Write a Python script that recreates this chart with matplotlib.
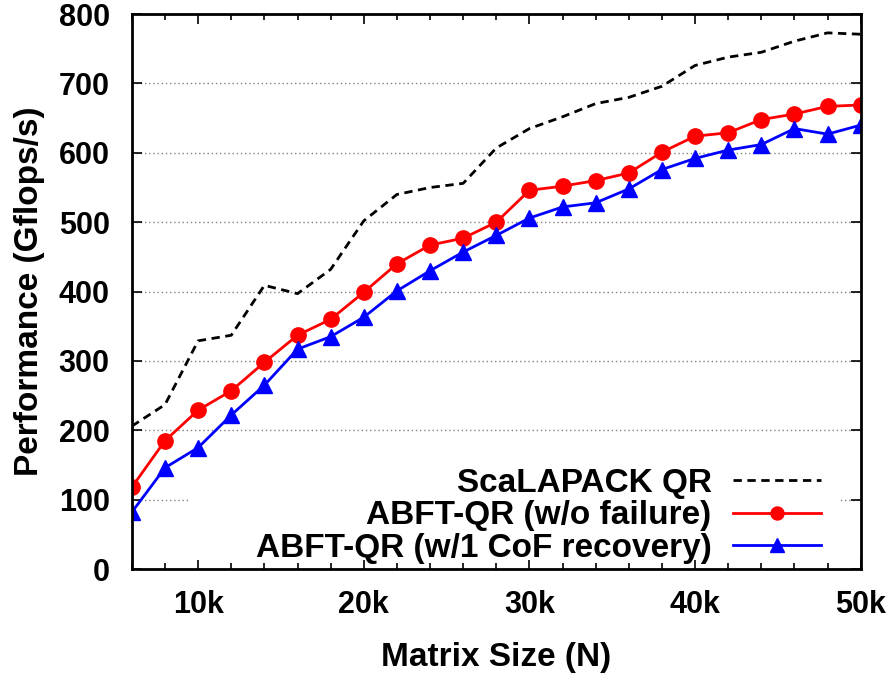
import matplotlib
matplotlib.use("Agg")
import matplotlib.pyplot as plt
from matplotlib.patches import Rectangle
from matplotlib.ticker import MultipleLocator, FuncFormatter

plt.rcParams['font.family'] = ['Liberation Sans', 'DejaVu Sans']
plt.rcParams['font.weight'] = 'bold'

# matrix sizes (N)
sizes = [6000, 8000, 10000, 12000, 14000, 16000, 18000, 20000, 22000, 24000,
         26000, 28000, 30000, 32000, 34000, 36000, 38000, 40000, 42000, 44000,
         46000, 48000, 50000]

# Gflops/s
scalapack = [206, 237, 329, 337, 409, 397, 432, 502, 540, 550,
             556, 607, 635, 652, 671, 680, 696, 726, 738, 745,
             761, 773, 771]
abft_nofail = [118, 185, 229, 257, 298, 337, 360, 399, 440, 467,
               477, 500, 546, 552, 560, 571, 601, 624, 629, 648,
               656, 667, 669]
abft_recov = [82, 146, 175, 222, 265, 317, 335, 363, 401, 430,
              457, 481, 506, 522, 528, 548, 576, 592, 604, 612,
              635, 627, 640]

fig = plt.figure(figsize=(8.91, 6.73), dpi=100)
ax = fig.add_axes([0.148, 0.1545, 0.818, 0.8245])

ax.plot(sizes, scalapack, color='black', lw=2, ls=(0, (3, 2)), label='ScaLAPACK QR')
ax.plot(sizes, abft_nofail, color='red', lw=2, marker='o', ms=11,
        label='ABFT-QR (w/o failure)')
ax.plot(sizes, abft_recov, color='blue', lw=2, marker='^', ms=12,
        label='ABFT-QR (w/1 CoF recovery)')

ax.set_xlim(6000, 50000)
ax.set_ylim(0, 800)
ax.xaxis.set_major_locator(MultipleLocator(10000))
ax.xaxis.set_minor_locator(MultipleLocator(2000))
ax.xaxis.set_major_formatter(FuncFormatter(lambda v, p: '%dk' % int(v / 1000)))
ax.yaxis.set_major_locator(MultipleLocator(100))

ax.tick_params(which='both', direction='in', top=True, right=True, labelsize=22)
ax.tick_params(which='major', length=7, width=1.2)
ax.tick_params(which='minor', length=4, width=1.2)
ax.tick_params(axis='x', pad=15)
ax.tick_params(axis='y', pad=16)
for sp in ax.spines.values():
    sp.set_linewidth(2)

ax.yaxis.grid(True, ls=(0, (1, 2)), color='gray', lw=1)
ax.set_axisbelow(True)

# opaque key box (hides the grid behind the legend, keeps the bottom ticks)
ax.add_patch(Rectangle((0.08, 0.016), 0.891, 0.184, transform=ax.transAxes,
                       facecolor='white', edgecolor='none', zorder=1.5))

ax.set_xlabel('Matrix Size (N)', fontsize=24, fontweight='bold', labelpad=16)
ax.set_ylabel('Performance (Gflops/s)', fontsize=24, fontweight='bold', labelpad=10)

leg = ax.legend(loc='lower right', markerfirst=False, fontsize=24, frameon=False,
                handlelength=2.64, labelspacing=0.05,
                borderpad=0, borderaxespad=0, handletextpad=0.63,
                bbox_to_anchor=(0.945, 0.009), markerscale=0.85)
for t in leg.get_texts():
    t.set_ha('right')
leg._legend_box.align = 'right'

fig.savefig('out.png', dpi=100)
